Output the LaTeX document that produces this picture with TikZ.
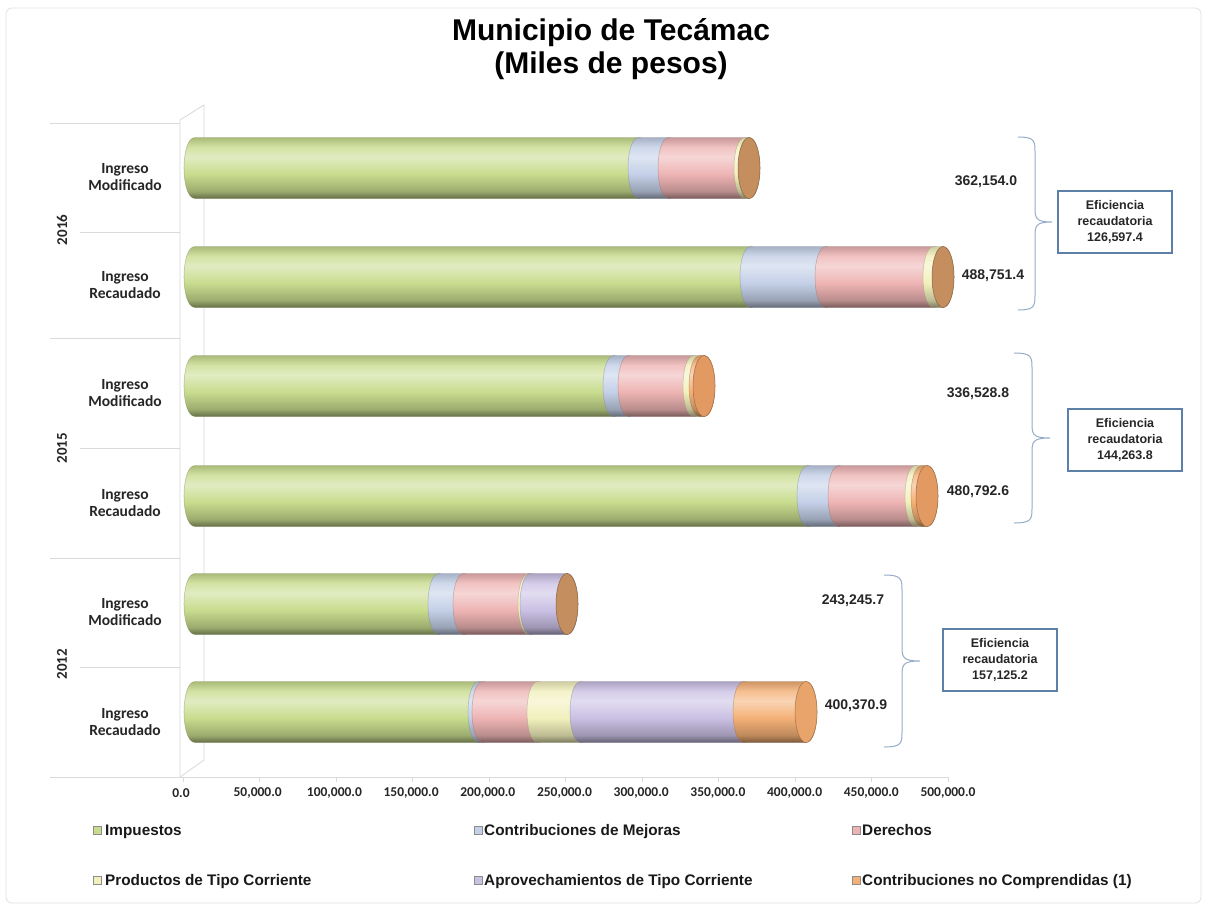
\documentclass[tikz,border=0pt]{standalone}
\usepackage{fontspec}
\setmainfont{Liberation Sans}
\newfontfamily\calib{Carlito}
\definecolor{cImp}{RGB}{200,220,142}
\definecolor{cMej}{RGB}{196,208,232}
\definecolor{cDer}{RGB}{238,180,180}
\definecolor{cPro}{RGB}{242,240,188}
\definecolor{cApr}{RGB}{202,192,228}
\definecolor{cCon}{RGB}{244,176,118}
\definecolor{faceTan}{RGB}{196,142,94}
\definecolor{faceOr}{RGB}{226,154,98}
\definecolor{faceOrL}{RGB}{232,164,106}
\definecolor{boxc}{RGB}{92,128,168}
\definecolor{bracec}{RGB}{150,172,200}
\definecolor{gridc}{RGB}{218,218,218}
\newcommand\mkshade[1]{\pgfdeclareverticalshading{sh-#1}{100bp}{color(0bp)=(#1!50!black); color(25bp)=(#1!50!black); color(31bp)=(#1!78!black); color(45bp)=(#1); color(59bp)=(#1!55!white); color(67bp)=(#1!80!white); color(75bp)=(#1!85!black); color(100bp)=(#1!85!black)}}
\mkshade{cImp}\mkshade{cMej}\mkshade{cDer}\mkshade{cPro}\mkshade{cApr}\mkshade{cCon}
% cylinder segment: x0, x1, y centre, colour
\newcommand\cylseg[4]{%
  \shadedraw[shading=sh-#4, draw=#4!65!black, draw opacity=0.55, line width=0.5pt]
    (#1,{#3-30.5}) -- (#2,{#3-30.5})
    .. controls ({#2+14.7},{#3-30.5}) and ({#2+14.7},{#3+30.5}) .. (#2,{#3+30.5})
    -- (#1,{#3+30.5})
    .. controls ({#1-14.7},{#3+30.5}) and ({#1-14.7},{#3-30.5}) .. (#1,{#3-30.5}) -- cycle;}
\newcommand\cylface[3]{%
  \filldraw[fill=#2, draw=#2!70!black, line width=0.5pt] (#1,#3) ellipse [x radius=11pt, y radius=30.5pt];}
% brace: x left, y top, y bottom, x tip, y tip
\newcommand\mybrace[5]{%
  \pgfmathsetmacro\bxm{(#1+#4)/2}
  \draw[brace] (#1,#2) .. controls (\bxm,#2) and (\bxm,{#2+4}) .. (\bxm,{#2+16})
    -- (\bxm,{#5-16}) .. controls (\bxm,{#5-4}) and (\bxm,#5) .. (#4,#5)
    .. controls (\bxm,#5) and (\bxm,{#5+4}) .. (\bxm,{#5+16})
    -- (\bxm,{#3-16}) .. controls (\bxm,{#3-4}) and (\bxm,#3) .. (#1,#3);}
\tikzset{
  cat/.style={font=\calib\bfseries\fontsize{15.5}{17}\selectfont, align=center, text=black!85},
  yr/.style={font=\calib\bfseries\fontsize{15}{17}\selectfont, rotate=90, text=black!85},
  ax/.style={font=\calib\bfseries\fontsize{13.5}{15}\selectfont, text=black!85},
  val/.style={font=\bfseries\fontsize{14}{16}\selectfont, text=black!85},
  effbox/.style={draw=boxc, line width=1.2pt, fill=white, minimum width=114pt, minimum height=62pt,
    align=center, font=\bfseries\fontsize{12.5}{16}\selectfont, inner sep=2pt, text=black!85},
  brace/.style={draw=bracec, line width=1pt},
  leg/.style={font=\bfseries\fontsize{15.3}{18}\selectfont, anchor=base west, inner sep=0pt, text=black!90},
  legmark/.style={draw=black!45, line width=0.4pt, minimum size=8pt, inner sep=0pt},
  gridl/.style={draw=gridc, line width=0.8pt},
  title/.style={font=\bfseries\fontsize{30}{32.5}\selectfont, align=center},
}
\begin{document}
\begin{tikzpicture}[x=1pt,y=-1pt]
\useasboundingbox (0,0) rectangle (1206,907);
\fill[white] (0,0) rectangle (1206,907);
\draw[draw=black!12, line width=0.8pt, rounded corners=6pt] (6,8) rectangle (1201,903);

% title
\node[title] (title) at (611,49) {Municipio de Tecámac\\(Miles de pesos)};

% 3D wall and grid
\draw[gridl] (180,120) -- (204,105) -- (204,760) -- (180,777) -- cycle;
\draw[gridl] (180,777) -- (948,777);
\foreach \y/\xs in {123/50,232/80,338/50,448/80,558/50,667/80}
  \draw[gridl] (\xs,\y) -- (180,\y);
\draw[gridl] (50,777) -- (180,777);
\foreach \k in {0,...,10}
  \draw[gridl] ({183+76.5*\k},777) -- ({183+76.5*\k},782);

% axis labels
\foreach \k/\t in {0/0.0,1/{50,000.0},2/{100,000.0},3/{150,000.0},4/{200,000.0},5/{250,000.0},6/{300,000.0},7/{350,000.0},8/{400,000.0},9/{450,000.0},10/{500,000.0}}
  \node[ax] (ax\k) at ({181+76.7*\k},793) {\t};

% category labels
\node[cat] (c1) at (125,177) {Ingreso\\Modificado};
\node[cat] (c2) at (125,285) {Ingreso\\Recaudado};
\node[cat] (c3) at (125,393) {Ingreso\\Modificado};
\node[cat] (c4) at (125,503) {Ingreso\\Recaudado};
\node[cat] (c5) at (125,612) {Ingreso\\Modificado};
\node[cat] (c6) at (125,722) {Ingreso\\Recaudado};
\node[yr] (y1) at (62,230) {2016};
\node[yr] (y2) at (62,448) {2015};
\node[yr] (y3) at (62,664) {2012};

% bars: 2016 Modificado
\cylseg{195}{639}{168}{cImp}\cylseg{639}{669}{168}{cMej}\cylseg{669}{745}{168}{cDer}\cylseg{745}{749}{168}{cPro}\cylface{749}{faceTan}{168}
% 2016 Recaudado
\cylseg{195}{751}{277}{cImp}\cylseg{751}{826}{277}{cMej}\cylseg{826}{934}{277}{cDer}\cylseg{934}{943}{277}{cPro}\cylface{943}{faceTan}{277}
% 2015 Modificado
\cylseg{195}{614}{386}{cImp}\cylseg{614}{629}{386}{cMej}\cylseg{629}{694}{386}{cDer}\cylseg{694}{700}{386}{cPro}\cylseg{700}{704}{386}{cCon}\cylface{704}{faceOr}{386}
% 2015 Recaudado
\cylseg{195}{808}{496}{cImp}\cylseg{808}{839}{496}{cMej}\cylseg{839}{916}{496}{cDer}\cylseg{916}{922}{496}{cPro}\cylseg{922}{927}{496}{cCon}\cylface{927}{faceOr}{496}
% 2012 Modificado
\cylseg{195}{439}{604}{cImp}\cylseg{439}{464}{604}{cMej}\cylseg{464}{529}{604}{cDer}\cylseg{529}{531}{604}{cPro}\cylseg{531}{567}{604}{cApr}\cylface{567}{faceTan}{604}
% 2012 Recaudado
\cylseg{195}{479}{712}{cImp}\cylseg{479}{483}{712}{cMej}\cylseg{483}{538}{712}{cDer}\cylseg{538}{581}{712}{cPro}\cylseg{581}{744}{712}{cApr}\cylseg{744}{806}{712}{cCon}\cylface{806}{faceOrL}{712}

% values
\node[val] (v1) at (986,182) {362,154.0};
\node[val] (v2) at (993,276) {488,751.4};
\node[val] (v3) at (978,394) {336,528.8};
\node[val] (v4) at (978,492) {480,792.6};
\node[val] (v5) at (853,601) {243,245.7};
\node[val] (v6) at (856,706) {400,370.9};

% braces and boxes
\node[effbox] (b1) at (1115,222) {Eficiencia\\recaudatoria\\126,597.4};
\node[effbox] (b2) at (1125,440) {Eficiencia\\recaudatoria\\144,263.8};
\node[effbox] (b3) at (1000,660) {Eficiencia\\recaudatoria\\157,125.2};
\mybrace{1018}{137}{310}{1052}{222}
\mybrace{1014}{353}{523}{1050}{438}
\mybrace{884}{575}{747}{920}{661}

% legend
\node[legmark, fill=cImp] (m1) at (97,830) {};
\node[leg] (l1) at (105,835) {Impuestos};
\node[legmark, fill=cMej] (m2) at (478,830) {};
\node[leg] (l2) at (484,835) {Contribuciones de Mejoras};
\node[legmark, fill=cDer] (m3) at (856,830) {};
\node[leg] (l3) at (862,835) {Derechos};
\node[legmark, fill=cPro] (m4) at (97,880) {};
\node[leg] (l4) at (105,885) {Productos de Tipo Corriente};
\node[legmark, fill=cApr] (m5) at (478,880) {};
\node[leg] (l5) at (484,885) {Aprovechamientos de Tipo Corriente};
\node[legmark, fill=cCon] (m6) at (856,880) {};
\node[leg] (l6) at (862,885) {Contribuciones no Comprendidas (1)};
\end{tikzpicture}
\end{document}
